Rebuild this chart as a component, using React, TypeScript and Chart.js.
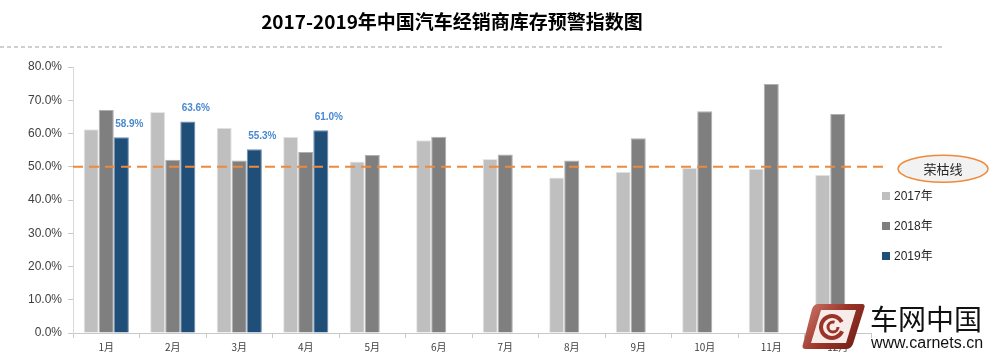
import { useEffect, useRef } from "react";
import { Chart, registerables } from "chart.js";

Chart.register(...registerables);

const chartTitle = "2017-2019年中国汽车经销商库存预警指数图";
const categories = ["1月", "2月", "3月", "4月", "5月", "6月", "7月", "8月", "9月", "10月", "11月", "12月"];
const seriesLabels = ["2017年", "2018年", "2019年"];
const values2017 = [61.3, 66.5, 61.7, 59.0, 51.6, 58.0, 52.3, 46.8, 48.5, 49.7, 49.4, 47.6];
const values2018 = [67.1, 52.1, 51.9, 54.4, 53.5, 59.0, 53.7, 51.9, 58.6, 66.7, 74.9, 65.9];
const values2019 = [58.9, 63.6, 55.3, 61.0, null, null, null, null, null, null, null, null];
const seriesColors = ["#BFBFBF", "#7F7F7F", "#1F4E79"];
const yMin = 0;
const yMax = 80;
const yStep = 10;
const thresholdValue = 50;
const thresholdLabel = "荣枯线";
const brandName = "车网中国";
const brandUrl = "www.carnets.cn";

const overlayPlugin = {
  id: "overlay",
  afterDatasetsDraw(chart: any) {
    const { ctx, chartArea } = chart;
    const y = chart.scales.y.getPixelForValue(thresholdValue);
    ctx.save();
    ctx.strokeStyle = "#F0893B";
    ctx.lineWidth = 2;
    ctx.setLineDash([10, 6]);
    ctx.beginPath();
    ctx.moveTo(chartArea.left, y);
    ctx.lineTo(chartArea.right + 17, y);
    ctx.stroke();
    ctx.setLineDash([]);
    const meta = chart.getDatasetMeta(2);
    ctx.font = "bold 10px 'Liberation Sans', Arial, sans-serif";
    ctx.fillStyle = "#4A89D0";
    ctx.textAlign = "center";
    ctx.textBaseline = "middle";
    meta.data.forEach((bar: any, i: number) => {
      const v = values2019[i];
      if (v == null) return;
      ctx.fillText(v.toFixed(1) + "%", bar.x + 8, bar.y - 13);
    });
    ctx.restore();
  },
  afterDraw(chart: any) {
    const { ctx, chartArea } = chart;
    const y = chart.scales.y.getPixelForValue(thresholdValue);
    ctx.save();
    ctx.font = "bold 19px 'Noto Sans CJK SC', sans-serif";
    ctx.fillStyle = "#000000";
    ctx.textAlign = "center";
    ctx.textBaseline = "middle";
    ctx.fillText(chartTitle, 452, 22);
    ctx.strokeStyle = "#CFCFCF";
    ctx.lineWidth = 2;
    ctx.setLineDash([4, 3]);
    ctx.beginPath();
    ctx.moveTo(0, 47);
    ctx.lineTo(942, 47);
    ctx.stroke();
    ctx.setLineDash([]);
    const ex = chartArea.right + 72;
    const ey = y + 2;
    ctx.beginPath();
    ctx.ellipse(ex, ey, 45, 13.5, 0, 0, Math.PI * 2);
    ctx.fillStyle = "#F2F2F2";
    ctx.fill();
    ctx.strokeStyle = "#F0893B";
    ctx.lineWidth = 1.5;
    ctx.stroke();
    ctx.fillStyle = "#262626";
    ctx.font = "13px 'Noto Sans CJK SC', sans-serif";
    ctx.fillText(thresholdLabel, ex, ey);
    const lx = chartArea.right + 15;
    const lys = [196, 226, 256];
    ctx.textAlign = "left";
    ctx.font = "12px 'Liberation Sans', 'Noto Sans CJK SC', sans-serif";
    chart.data.datasets.forEach((ds: any, i: number) => {
      ctx.fillStyle = ds.backgroundColor;
      ctx.fillRect(lx - 4, lys[i] - 4, 8, 8);
      ctx.fillStyle = "#262626";
      ctx.fillText(ds.label, lx + 8, lys[i] + 1);
    });
    ctx.fillStyle = "#FFFFFF";
    ctx.fillRect(805, 307, 62, 24);
    // logo frame
    ctx.beginPath();
    ctx.moveTo(818, 304);
    ctx.lineTo(862, 304);
    ctx.quadraticCurveTo(866, 304, 864, 309);
    ctx.lineTo(853, 344);
    ctx.quadraticCurveTo(851, 349, 846, 349);
    ctx.lineTo(806, 349);
    ctx.quadraticCurveTo(801, 349, 803, 344);
    ctx.lineTo(812, 309);
    ctx.quadraticCurveTo(814, 304, 818, 304);
    ctx.closePath();
    const g = ctx.createLinearGradient(803, 304, 864, 349);
    g.addColorStop(0, "#D07A70");
    g.addColorStop(0.5, "#9A3428");
    g.addColorStop(1, "#6A1A12");
    ctx.fillStyle = g;
    ctx.fill();
    ctx.beginPath();
    ctx.moveTo(821, 310);
    ctx.lineTo(856, 310);
    ctx.lineTo(846, 343);
    ctx.lineTo(811, 343);
    ctx.closePath();
    ctx.fillStyle = "#F7ECEA";
    ctx.fill();
    ctx.beginPath();
    ctx.arc(832, 327, 11, 0.4, Math.PI * 1.85);
    ctx.strokeStyle = "#9A3428";
    ctx.lineWidth = 4;
    ctx.stroke();
    ctx.beginPath();
    ctx.arc(833, 327, 5, 0, Math.PI * 1.6);
    ctx.lineWidth = 3;
    ctx.stroke();
    ctx.fillStyle = "#111111";
    ctx.textAlign = "left";
    ctx.textBaseline = "middle";
    ctx.font = "28px 'Noto Sans CJK SC', sans-serif";
    ctx.fillText(brandName, 870, 319);
    ctx.font = "16px 'Liberation Sans', Arial, sans-serif";
    ctx.fillText(brandUrl, 871, 344);
    ctx.restore();
  },
};

export default function App() {
  const canvasRef = useRef<HTMLCanvasElement | null>(null);

  useEffect(() => {
    const canvas = canvasRef.current;
    if (!canvas) return;
    const chart = new Chart(canvas, {
      type: "bar",
      data: {
        labels: categories,
        datasets: [
          { label: seriesLabels[0], data: values2017, backgroundColor: seriesColors[0], borderColor: "#E6E6E6", borderWidth: 1 },
          { label: seriesLabels[1], data: values2018, backgroundColor: seriesColors[1], borderColor: "#B0B0B0", borderWidth: 1 },
          { label: seriesLabels[2], data: values2019, backgroundColor: seriesColors[2], borderColor: "#6E8DAF", borderWidth: 1 },
        ],
      },
      options: {
        responsive: false,
        animation: false,
        devicePixelRatio: 1,
        layout: { padding: { left: 0, right: 129, top: 67, bottom: 0 } },
        datasets: { bar: { categoryPercentage: 0.68, barPercentage: 1 } },
        plugins: {
          legend: { display: false },
          title: { display: false },
          tooltip: { enabled: false },
        },
        scales: {
          x: {
            grid: { drawOnChartArea: false, tickLength: 5, color: "#C8C8C8", offset: true },
            border: { color: "#C8C8C8" },
            ticks: {
              color: "#404040",
              font: { size: 10, family: "'Noto Sans CJK SC', sans-serif" },
              padding: 3,
              maxRotation: 0,
              autoSkip: false,
            },
            afterFit(scale: any) {
              scale.height = 26;
            },
          },
          y: {
            min: yMin,
            max: yMax,
            grid: { drawOnChartArea: false, tickLength: 5, color: "#C8C8C8" },
            border: { color: "#D9D9D9" },
            ticks: {
              stepSize: yStep,
              color: "#404040",
              font: { size: 12, family: "'Liberation Sans', Arial, sans-serif" },
              padding: 6,
              callback: (v: any) => Number(v).toFixed(1) + "%",
            },
            afterFit(scale: any) {
              scale.width = 73;
            },
          },
        },
      },
      plugins: [overlayPlugin],
    });
    return () => chart.destroy();
  }, []);

  return (
    <div style={{ position: "fixed", left: 0, top: 0, width: 1000, height: 359, background: "#FFFFFF" }}>
      <canvas ref={canvasRef} width={1000} height={359} style={{ display: "block", width: 1000, height: 359 }} />
    </div>
  );
}
